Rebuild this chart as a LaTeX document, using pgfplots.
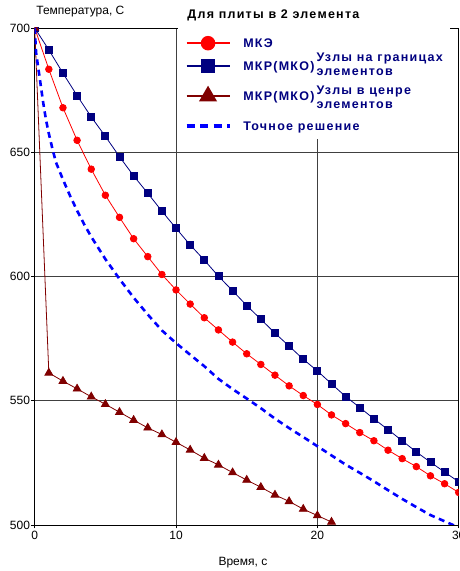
\documentclass[border=0pt]{standalone}
\usepackage{fontspec}
\setmainfont{Liberation Sans}
\newfontfamily\lsfont[LetterSpace=10]{Liberation Sans}
\usepackage{pgfplots}
\pgfplotsset{compat=1.18}
\definecolor{navyc}{RGB}{0,0,128}
\definecolor{dred}{RGB}{128,0,0}
\definecolor{rc}{RGB}{255,0,0}
\definecolor{bc}{RGB}{0,0,255}
\newcommand\lst{\rule[-3pt]{0pt}{13pt}}
\pgfplotsset{
  img/.style 2 args={legend image code/.code={\path[draw=none,fill=none] (0pt,-#1) rectangle (43pt,#2);\draw[mark repeat=2,mark phase=2,##1] plot coordinates {(0pt,0pt) (21.5pt,0pt) (43pt,0pt)};}},
}
\begin{document}
\begin{tikzpicture}
\begin{axis}[
  scale only axis, width=424pt, height=497pt,
  xmin=0, xmax=30, ymin=500, ymax=700,
  xtick={0,10,20,30}, ytick={500,550,600,650,700},
  grid=major, major grid style={black!75, line width=0.8pt},
  axis line style={black, line width=0.8pt},
  tick align=outside, tick pos=left, major tick length=3.5pt,
  tick style={black, line width=0.8pt},
  ticklabel style={font=\fontsize{12}{14}\selectfont},
  yticklabel style={inner xsep=1pt},
  xticklabel style={inner ysep=2pt},
  /pgf/number format/assume math mode=true,
  clip marker paths=true,
  legend cell align=left,
  legend style={at={(rel axis cs:0.337,1)}, anchor=north west, draw=none, fill=white,
    inner xsep=7pt, inner ysep=3pt,
    font=\lsfont\bfseries\fontsize{12.5}{14}\selectfont, text=navyc,
    row sep=0pt, nodes={inner sep=0pt},
    /tikz/every odd column/.append style={column sep=12pt}},
]
\addplot[color=rc, line width=0.8pt, mark=*, mark size=3.3pt, mark options={solid, fill=rc, draw=rc},
  img={12pt}{12pt}, legend image post style={line width=2.5pt, mark size=6pt}]
coordinates {(0,700)(1,683.4)(2,667.9)(3,654.8)(4,643.2)(5,632.7)(6,623.8)(7,615.2)(8,608.0)(9,600.8)(10,594.6)(11,588.9)(12,583.4)(13,578.5)(14,573.6)(15,568.9)(16,564.6)(17,560.3)(18,556.0)(19,552.1)(20,548.5)(21,544.3)(22,540.8)(23,537.2)(24,533.9)(25,530.1)(26,526.7)(27,523.5)(28,519.8)(29,516.6)(30,513.1)};
\addlegendentry{\lst МКЭ}
\addplot[color=navyc, line width=0.8pt, mark=square*, mark size=3.5pt, mark options={solid, fill=navyc, draw=navyc},
  img={15pt}{11pt}, legend image post style={line width=2.5pt, mark size=6pt}]
coordinates {(0,700)(1,691.2)(2,681.8)(3,672.8)(4,664.2)(5,656.4)(6,648.2)(7,640.5)(8,633.5)(9,626.3)(10,619.4)(11,612.7)(12,606.6)(13,600.1)(14,594.3)(15,588.3)(16,582.8)(17,577.2)(18,572.0)(19,566.7)(20,562.0)(21,556.8)(22,551.7)(23,547.3)(24,542.7)(25,538.4)(26,533.9)(27,529.4)(28,525.3)(29,521.3)(30,517.4)};
\addlegendentry{\lst МКР(МКО)\,\smash{\raisebox{1.7pt}{\begin{tabular}{@{}l@{}}Узлы на границах\\элементов\end{tabular}}}}
\addplot[color=dred, line width=0.8pt, mark=triangle*, mark size=4.5pt, mark options={solid, fill=dred, draw=dred},
  img={15pt}{15pt}, legend image post style={line width=2.5pt, mark size=8pt}]
coordinates {(0,700)(1,561.2)(2,557.9)(3,554.8)(4,551.6)(5,548.6)(6,545.4)(7,542.2)(8,539.1)(9,536.4)(10,533.3)(11,530.2)(12,526.9)(13,524.2)(14,521.1)(15,518.1)(16,515.2)(17,512.1)(18,509.5)(19,506.4)(20,503.8)(21,501.2)};
\addlegendentry{\lst МКР(МКО)\,\smash{\raisebox{-1.3pt}{\begin{tabular}{@{}l@{}}Узлы в ценре\\элементов\end{tabular}}}}
\addplot[color=bc, line width=2.6pt, dash pattern=on 6pt off 4.5pt, no marks,
  img={10pt}{15pt}, legend image post style={line width=3.5pt, dash pattern=on 8pt off 5.5pt}]
coordinates {(0,700)(0.1,690)(0.25,684)(0.4,678)(0.6,670)(0.8,663)(1.0,657.5)(1.25,651.5)(1.5,646)(2,639)(2.5,632.5)(3,626.5)(3.5,621)(4,616)(5,607)(6,599)(7,591.5)(8,584.7)(9,578.3)(10,573.2)(11,568.5)(12,563.9)(13,558.8)(14,554.7)(15,550.9)(16,547)(17,542.8)(18,539)(19,535.4)(20,531.7)(21,528)(22,524.3)(23,521)(24,517.6)(25,514)(26,510.5)(27,507.2)(28,504)(29,501.5)(30,499)};
\addlegendentry{\lst Точное решение}
\coordinate (tl) at (rel axis cs:0,1);
\coordinate (tr) at (rel axis cs:1,1);
\coordinate (bl) at (rel axis cs:0,0);
\coordinate (tt) at (rel axis cs:0.563,1);
\coordinate (xl) at (rel axis cs:0.491,0);
\end{axis}
\node[anchor=base west, font=\fontsize{12}{14}\selectfont, inner sep=0pt, xshift=1.5pt, yshift=13pt] at (tl) {Температура, С};
\node[anchor=base, font=\lsfont\bfseries\fontsize{12.5}{14}\selectfont, inner sep=0pt, yshift=9pt] at (tt) {Для плиты в 2 элемента};
\node[anchor=base, font=\fontsize{12}{14}\selectfont, inner sep=0pt, yshift=-40.7pt] at (xl) {Время, с};
\pgfresetboundingbox
\useasboundingbox ([xshift=-34.7pt,yshift=-46pt]bl) rectangle ([xshift=0.5pt,yshift=28pt]tr);
\end{tikzpicture}
\end{document}
